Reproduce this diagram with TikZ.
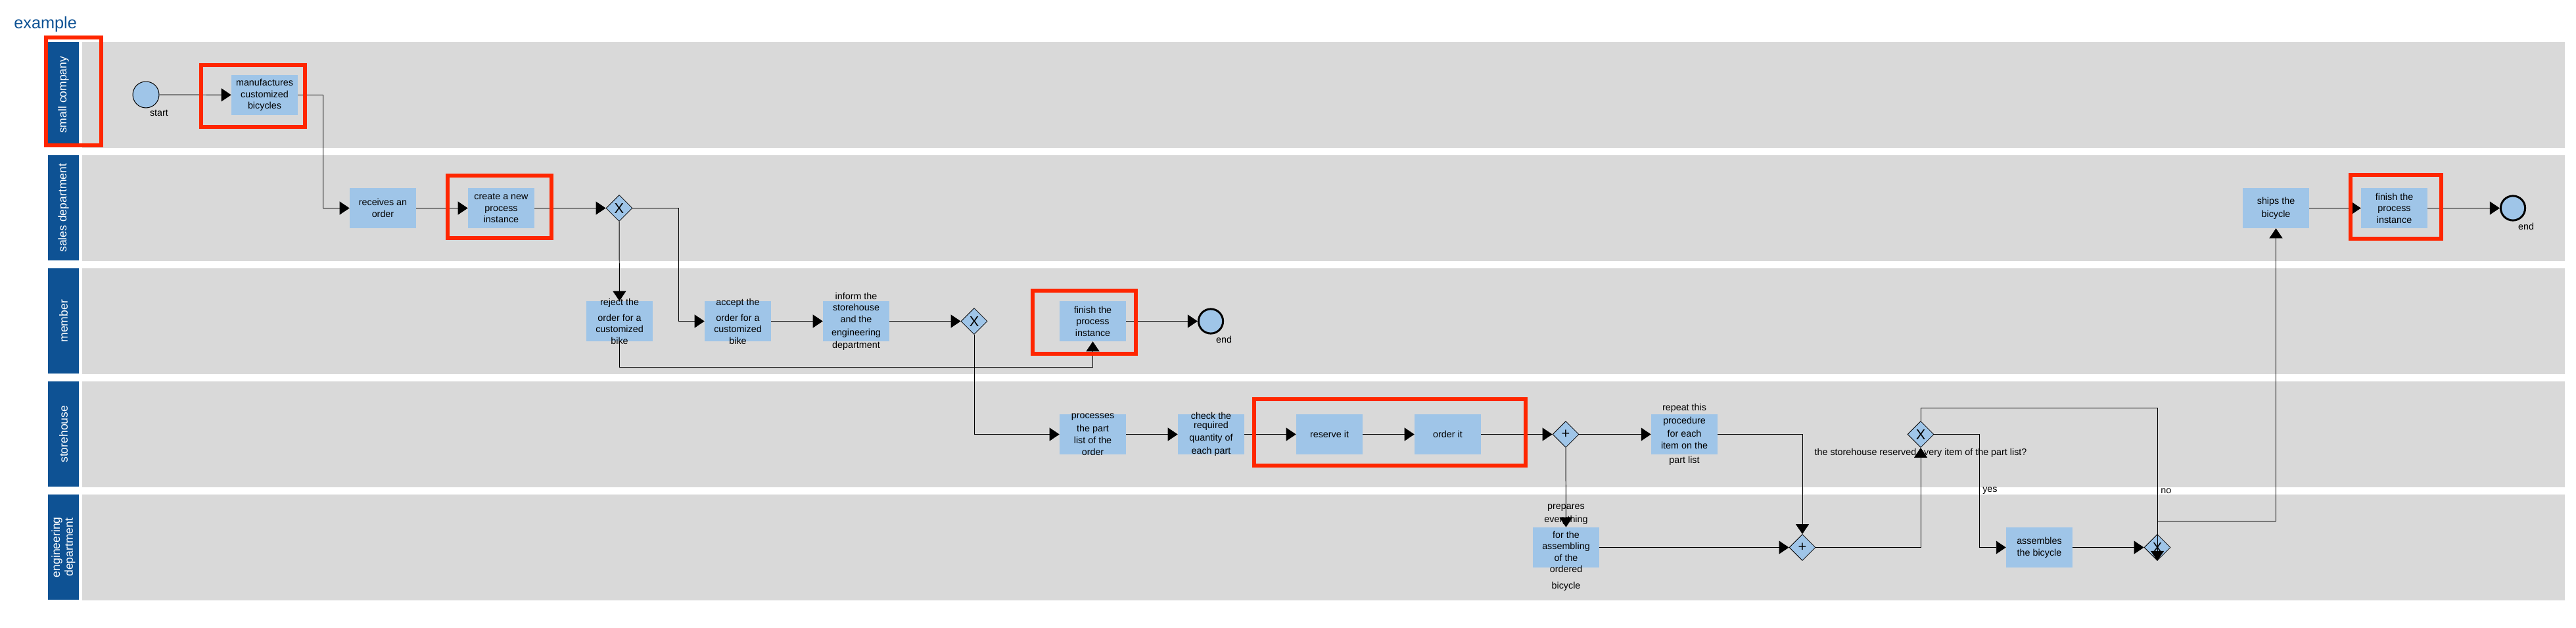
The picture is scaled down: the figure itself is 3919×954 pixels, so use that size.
\documentclass[tikz,border=0pt]{standalone}
\usepackage{fontspec}
\setmainfont{Liberation Sans}
\usetikzlibrary{arrows.meta,shapes.geometric,calc}

\definecolor{lanegray}{RGB}{217,217,217}
\definecolor{poolblue}{RGB}{14,82,148}
\definecolor{taskblue}{RGB}{159,197,232}
\definecolor{markred}{RGB}{255,38,0}

\begin{document}
\begin{tikzpicture}[x=0.25mm,y=-0.25mm,
    lane/.style={fill=lanegray},
    lanelabel/.style={fill=poolblue,text=white,rotate=90,align=center,inner sep=0pt,
      minimum width=40.1mm,minimum height=11.75mm,font=\fontsize{12.5}{14}\selectfont},
    tasktext/.style={align=center,inner sep=0pt,font=\fontsize{10.2}{12.5}\selectfont},
    task/.style={fill=taskblue,inner sep=0pt,minimum width=25.25mm,minimum height=15.25mm,
      label={[tasktext]center:#1}},
    gateway/.style={diamond,draw=black,fill=taskblue,line width=0.2mm,inner sep=0pt,
      minimum size=10mm,font=\fontsize{15.5}{15.5}\selectfont},
    event/.style={circle,draw=black,fill=taskblue,line width=0.25mm,inner sep=0pt,minimum size=10mm},
    endevent/.style={event,line width=0.75mm,minimum size=9.3mm},
    edgetext/.style={inner sep=0pt,font=\fontsize{10.2}{12}\selectfont},
    flow/.style={draw=black,line width=0.7pt,-{Triangle[length=3.75mm,width=5mm]}},
    redmark/.style={draw=markred,line width=1.5mm}
  ]
  \useasboundingbox (0,0) rectangle (3919,954);

  % Title
  \node[anchor=base west,inner sep=0pt,text=poolblue,font=\fontsize{18}{20}\selectfont] (title) at (21,43) {example};

  % Lanes and their labels
  \foreach \i/\txt in {0/small company,1/sales department,2/member,3/storehouse,4/{engineering\\department}}{
    \fill[lane] (125,64+172*\i) rectangle (3902,224.5+172*\i);
    \node[lanelabel] (lane\i) at (96.5,144.25+172*\i) {\txt};
  }

  % small company
  \node[event] (start) at (222,144) {};
  \node[edgetext] (startlbl) at ($(start)+(20,28)$) {start};
  \node[task={manufactures\\customized\\bicycles}] (mfg) at (402.5,144.5) {};

  % sales department
  \node[task={receives an\\order}] (recv) at (582.5,316.5) {};
  \node[task={create a new\\process\\instance}] (create) at (762.5,316.5) {};
  \node[gateway] (X1) at (942,316.5) {X};
  \node[task={ships the\\[1.7pt]bicycle}] (ships) at (3462.5,316.5) {};
  \node[task={finish the\\process\\instance}] (finish2) at (3642.5,316.5) {};
  \node[endevent] (end2) at (3823,316.5) {};
  \node[edgetext] (end2lbl) at ($(end2)+(20,28)$) {end};

  % member
  \node[task={reject the\\[4.5pt]order for a\\customized\\bike}] (reject) at (942.5,488.5) {};
  \node[task={accept the\\[4.5pt]order for a\\customized\\bike}] (accept) at (1122.5,488.5) {};
  \node[task={inform the\\storehouse\\and the\\[1.5pt]engineering\\[1pt]department}] (inform) at (1302.5,488.5) {};
  \node[gateway] (X2) at (1482,488.5) {X};
  \node[task={finish the\\process\\instance}] (finish1) at (1662.5,488.5) {};
  \node[endevent] (end1) at (1842,488.5) {};
  \node[edgetext] (end1lbl) at ($(end1)+(20,28)$) {end};

  % storehouse
  \node[task={processes\\[1.7pt]the part\\[1pt]list of the\\order}] (proc) at (1662.5,660.5) {};
  \node[task={check the\\[-2.5pt]required\\[1pt]quantity of\\[1.7pt]each part}] (check) at (1842.5,660.5) {};
  \node[task={reserve it}] (reserve) at (2022.5,660.5) {};
  \node[task={order it}] (order) at (2202.5,660.5) {};
  \node[gateway] (plus1) at (2382,660.5) {+};
  \node[task={repeat this\\[1.7pt]procedure\\[2.4pt]for each\\item on the\\[3pt]part list}] (repeat) at (2562.5,660.5) {};
  \node[gateway] (X3) at (2922,660.5) {X};
  \node[edgetext] (questlbl) at ($(X3)+(0,28)$) {the storehouse reserved every item of the part list?};

  % engineering department
  \node[task={prepares\\[1.7pt]everything\\[4.5pt]for the\\assembling\\of the\\ordered\\[5pt]bicycle}] (prep) at (2382.5,832.5) {};
  \node[gateway] (plus2) at (2742,832.5) {+};
  \node[task={assembles\\the bicycle}] (assem) at (3102.5,832.5) {};
  \node[gateway] (X4) at (3282,832.5) {X};

  % Sequence flows
  \draw[flow] (start) -- (mfg);
  \draw[flow] (mfg.east) -| ($(recv.west)+(-40,0)$) -- (recv.west);
  \draw[flow] (recv) -- (create);
  \draw[flow] (create) -- (X1);
  \draw[flow] (X1) -- (reject);
  \draw[flow] (X1.east) -| ($(accept.west)+(-39,0)$) -- (accept.west);
  \draw[flow] (accept) -- (inform);
  \draw[flow] (inform) -- (X2);
  \draw[flow] (reject.south) -- ++(0,39) -| (finish1.south);
  \draw[flow] (finish1) -- (end1);
  \draw[flow] (X2.south) |- (proc.west);
  \draw[flow] (proc) -- (check);
  \draw[flow] (check) -- (reserve);
  \draw[flow] (reserve) -- (order);
  \draw[flow] (order) -- (plus1);
  \draw[flow] (plus1) -- (repeat);
  \draw[flow] (plus1) -- (prep);
  \draw[flow] (repeat.east) -| (plus2.north);
  \draw[flow] (prep) -- (plus2);
  \draw[flow] (plus2.east) -| (X3.south);
  \draw[flow] (X3.east) -| ($(assem.west)+(-40,0)$) -- (assem.west);
  \draw[flow] (assem) -- (X4);
  \draw[flow] (X3.north) -- ++(0,-20) -| (X4.south);
  \draw[flow] (X4.north) -- ++(0,-20) -| (ships.south);
  \draw[flow] (ships) -- (finish2);
  \draw[flow] (finish2) -- (end2);

  % Labels on the flows
  \node[edgetext,anchor=west] (yeslbl) at (3016,746) {yes};
  \node[edgetext,anchor=west] (nolbl) at (3287,747) {no};

  % Red marks
  \draw[redmark] (70,57) rectangle (154,221);
  \draw[redmark] (306,99) rectangle (464,193);
  \draw[redmark] (681,267) rectangle (839,362);
  \draw[redmark] (1571,442) rectangle (1728,538);
  \draw[redmark] (1908,607) rectangle (2321,708);
  \draw[redmark] (3576,266) rectangle (3714,363);
\end{tikzpicture}
\end{document}
